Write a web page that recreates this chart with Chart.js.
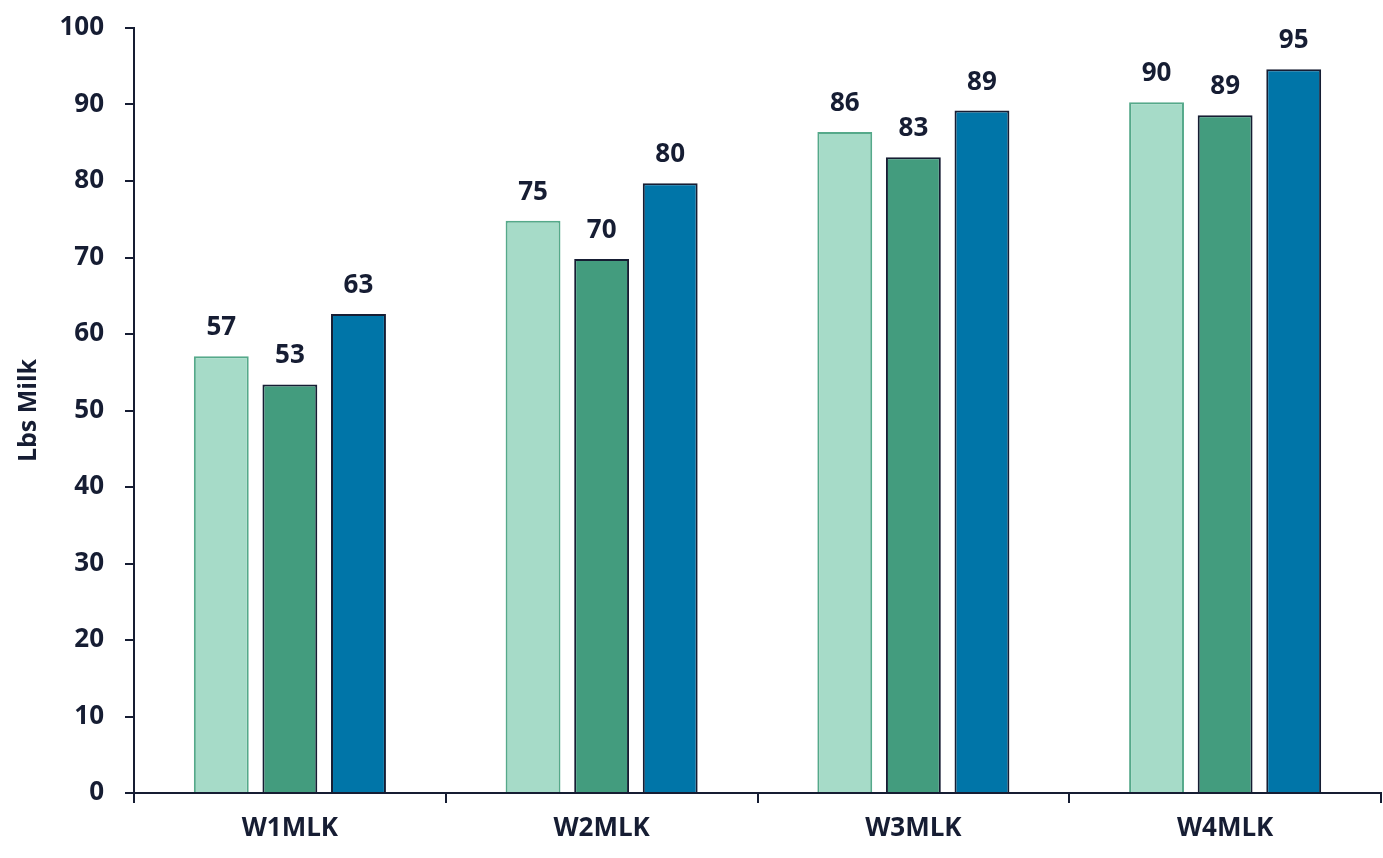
<!DOCTYPE html>
<html>
<head>
<meta charset="utf-8">
<script src="https://cdn.jsdelivr.net/npm/chart.js@4/dist/chart.umd.min.js"></script>
<style>
  html, body { margin: 0; padding: 0; background: #fff; }
  #wrap { width: 1383px; height: 858px; }
</style>
</head>
<body>
<div id="wrap"><canvas id="milk-chart"></canvas></div>
<script>
// --- Data ---
const categories = ['W1MLK', 'W2MLK', 'W3MLK', 'W4MLK'];
const seriesA = [57.1, 74.8, 86.4, 90.3];
const seriesB = [53.4, 69.8, 83.1, 88.6];
const seriesC = [62.6, 79.7, 89.2, 94.6];
const yTicks = [0, 10, 20, 30, 40, 50, 60, 70, 80, 90, 100];

const inkColor = '#161d33';
const fontFamily = '"Open Sans", sans-serif';

// Draws the rounded value above each bar
const barValueLabels = {
    id: 'barValueLabels',
    afterDatasetsDraw(chart) {
        const ctx = chart.ctx;
        ctx.save();
        ctx.font = 'bold 26px ' + fontFamily;
        ctx.fillStyle = inkColor;
        ctx.textAlign = 'center';
        ctx.textBaseline = 'alphabetic';
        chart.data.datasets.forEach((ds, i) => {
            chart.getDatasetMeta(i).data.forEach((bar, j) => {
                ctx.fillText(Math.round(ds.data[j]), bar.x, bar.y - 21);
            });
        });
        ctx.restore();
    }
};

new Chart(document.getElementById('milk-chart').getContext('2d'), {
    type: 'bar',
    data: {
        labels: categories,
        datasets: [
            { data: seriesA, backgroundColor: '#a6dbc8', borderColor: '#55a98a', borderWidth: 2 },
            { data: seriesB, backgroundColor: '#439c7e', borderColor: inkColor, borderWidth: 2 },
            { data: seriesC, backgroundColor: '#0075a8', borderColor: inkColor, borderWidth: 2 }
        ]
    },
    options: {
        responsive: true,
        maintainAspectRatio: false,
        animation: false,
        categoryPercentage: 0.66,
        barPercentage: 0.8,
        layout: { padding: { top: 28, right: 2, left: 0, bottom: 0 } },
        plugins: {
            legend: { display: false },
            tooltip: { enabled: false }
        },
        scales: {
            x: {
                afterFit: axis => { axis.height = 65; },
                grid: { display: true, drawOnChartArea: false, drawTicks: true, tickLength: 10, color: inkColor, lineWidth: 2 },
                border: { display: true, color: inkColor, width: 2 },
                ticks: { color: inkColor, font: { family: fontFamily, size: 26, weight: 'bold' }, padding: 10 }
            },
            y: {
                min: 0,
                max: 100,
                afterFit: axis => {
                    axis.width = 134;
                    axis.paddingTop = 0;
                    axis.paddingBottom = 0;
                },
                afterBuildTicks: axis => { axis.ticks = yTicks.map(v => ({ value: v })); },
                grid: { display: true, drawOnChartArea: false, drawTicks: true, tickLength: 9, color: inkColor, lineWidth: 2 },
                border: { display: true, color: inkColor, width: 2 },
                ticks: { color: inkColor, font: { family: fontFamily, size: 26, weight: 'bold' }, padding: 21 },
                title: { display: true, text: 'Lbs Milk', color: inkColor, font: { family: fontFamily, size: 25, weight: 'bold' }, padding: { top: 14, bottom: 10 } }
            }
        }
    },
    plugins: [barValueLabels]
});
</script>
</body>
</html>
